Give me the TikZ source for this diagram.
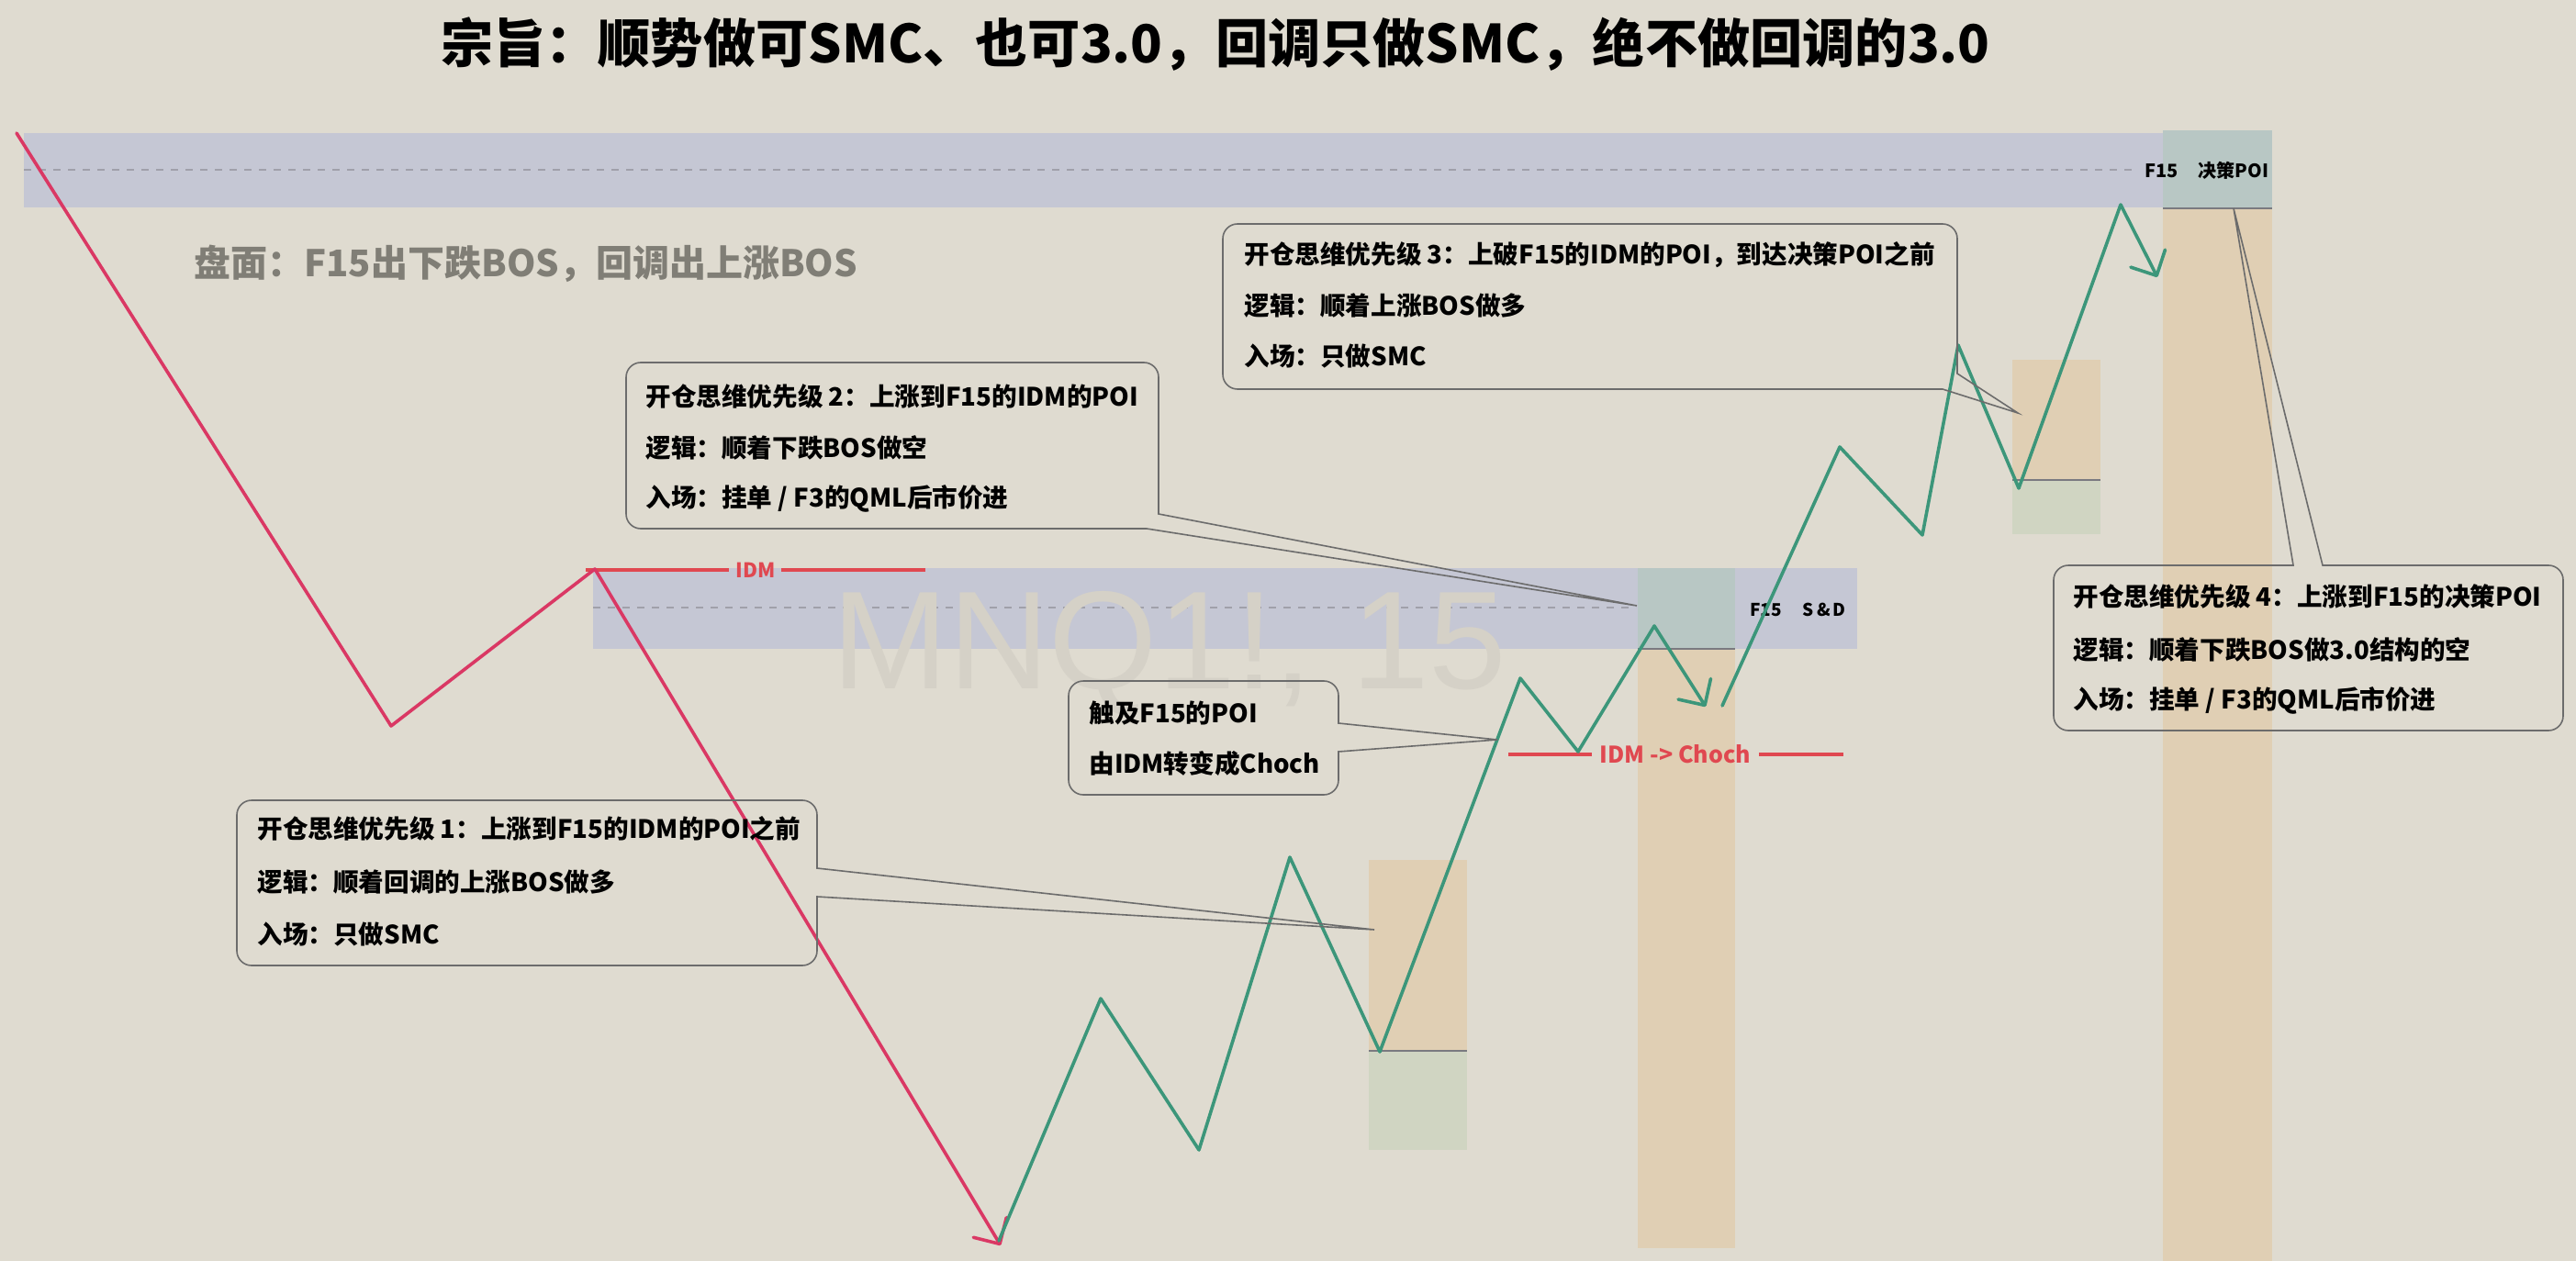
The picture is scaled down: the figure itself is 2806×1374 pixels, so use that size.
\documentclass[tikz,border=0pt]{standalone}
\usepackage{fontspec}
\setmainfont{Noto Sans CJK SC}
\newfontfamily\medfont{Noto Sans CJK SC Medium}
\newfontfamily\wmfont{Liberation Sans}
\usetikzlibrary{arrows.meta}
\definecolor{bg}{RGB}{223,219,208}
\definecolor{bandblue}{RGB}{197,199,212}
\definecolor{poigreen}{RGB}{184,199,196}
\definecolor{zoneorange}{RGB}{224,207,180}
\definecolor{zonegreen}{RGB}{208,213,194}
\definecolor{sepgray}{RGB}{122,122,128}
\definecolor{dashgray}{RGB}{160,160,170}
\definecolor{calloutgray}{RGB}{108,108,108}
\definecolor{downred}{RGB}{218,56,100}
\definecolor{idmred}{RGB}{224,72,80}
\definecolor{upgreen}{RGB}{60,150,122}
\definecolor{wmgray}{RGB}{213,209,199}
\definecolor{pangray}{RGB}{128,126,118}
\tikzset{
  sepline/.style={draw=sepgray,line width=1pt},
  dashline/.style={draw=dashgray,line width=0.8pt,dash pattern=on 4pt off 4pt},
  downline/.style={draw=downred,line width=1.8pt,line cap=round,line join=round},
  upline/.style={draw=upgreen,line width=1.8pt,line cap=round,line join=round},
  barb/.style={-{Straight Barb[length=10.5pt,width=21pt,line cap=round,line join=round]}},
  idmline/.style={draw=idmred,line width=1.7pt},
  callout/.style={draw=calloutgray,line width=0.8pt,line join=miter},
  ctext/.style={anchor=west,inner sep=0pt,font=\bfseries\fontsize{13.8pt}{16pt}\selectfont,text=black},
  smalllabel/.style={anchor=west,inner sep=0pt,font=\bfseries\fontsize{10pt}{12pt}\selectfont,text=black},
  redlabel/.style={inner sep=0pt,font=\bfseries\fontsize{10pt}{12pt}\selectfont,text=idmred},
}
\begin{document}
\begin{tikzpicture}[x=0.5pt,y=0.5pt]
\useasboundingbox (0,0) rectangle (2806,-1374);
\fill[bg] (0,0) rectangle (2806,-1374);

% zones
\fill[bandblue] (26,-145) rectangle (2356,-226);
\fill[poigreen] (2356,-142) rectangle (2475,-227);
\fill[zoneorange] (2356,-227) rectangle (2475,-1374);
\draw[sepline] (2356,-227) -- (2475,-227);

\fill[bandblue] (646,-619) rectangle (2023,-707);
\fill[poigreen] (1784,-619) rectangle (1890,-707);
\fill[zoneorange] (1784,-707) rectangle (1890,-1360);
\draw[sepline] (1784,-707) -- (1890,-707);

\fill[zoneorange] (1491,-937) rectangle (1598,-1145);
\fill[zonegreen] (1491,-1145) rectangle (1598,-1253);
\draw[sepline] (1491,-1145) -- (1598,-1145);

\fill[zoneorange] (2192,-392) rectangle (2288,-523);
\fill[zonegreen] (2192,-523) rectangle (2288,-582);
\draw[sepline] (2192,-523) -- (2288,-523);

\draw[dashline] (26,-185) -- (2325,-185);
\draw[dashline] (646,-662) -- (1782,-662);

% watermark
\node[inner sep=0pt,text=wmgray,font=\wmfont\fontsize{76pt}{80pt}\selectfont] (wm) at (1274,-712) {MNQ1!, 15};

% labels in zones
\node[smalllabel] (poilabel) at (2336,-186) {F15\hspace{1.1em}决策POI};
\node[smalllabel,font=\bfseries\fontsize{9.5pt}{11pt}\selectfont] (sdlabel) at (1906,-664) {F15\hspace{1.2em}S\,\&\,D};

% IDM lines
\node[redlabel,font=\bfseries\fontsize{11pt}{12pt}\selectfont] (idm) at (823,-621) {IDM};
\coordinate (idmA) at (638,-621);
\coordinate (idmB) at (1008,-621);
\draw[idmline] (idmA) -- (idm.west -| 794,0);
\draw[idmline] (idm.east -| 851,0) -- (idmB);

\node[redlabel,font=\bfseries\fontsize{12.5pt}{14pt}\selectfont] (choch) at (1825,-822) {IDM -> Choch};
\coordinate (chA) at (1643,-822);
\coordinate (chB) at (2008,-822);
\draw[idmline] (chA) -- (choch.west -| 1734,0);
\draw[idmline] (choch.east -| 1916,0) -- (chB);

% red downtrend
\coordinate (r0) at (18,-145);
\coordinate (r1) at (426,-791);
\coordinate (r2) at (648,-620);
\coordinate (r3) at (1090,-1357);
\draw[downline,barb] (r0) -- (r1) -- (r2) -- (r3);

% green uptrend
\coordinate (g0) at (1088,-1352);
\coordinate (g1) at (1199,-1088);
\coordinate (g2) at (1306,-1253);
\coordinate (g3) at (1405,-934);
\coordinate (g4) at (1503,-1146);
\coordinate (g5) at (1656,-739);
\coordinate (g6) at (1719,-819);
\coordinate (g7) at (1802,-682);
\coordinate (g8) at (1858,-770);
\draw[upline,barb] (g0) -- (g1) -- (g2) -- (g3) -- (g4) -- (g5) -- (g6) -- (g7) -- (g8);
\coordinate (h0) at (1876,-769);
\coordinate (h1) at (2004,-487);
\coordinate (h2) at (2094,-583);
\coordinate (h3) at (2133,-376);
\coordinate (h4) at (2199,-532);
\coordinate (h5) at (2310,-223);
\coordinate (h6) at (2350,-302);
\draw[upline,barb] (h0) -- (h1) -- (h2) -- (h3) -- (h4) -- (h5) -- (h6);

% callouts
\coordinate (t1) at (1497,-1013);
\coordinate (t2) at (1783,-660);
\coordinate (t3) at (2198,-450);
\coordinate (t4) at (2433,-227);
\coordinate (t5) at (1631,-806);

\draw[callout] (274,-872) -- (874,-872) arc[start angle=90,end angle=0,radius=16] -- (890,-946) -- (t1) -- (890,-977) -- (890,-1036) arc[start angle=0,end angle=-90,radius=16] -- (274,-1052) arc[start angle=270,end angle=180,radius=16] -- (258,-888) arc[start angle=180,end angle=90,radius=16] -- cycle;

\draw[callout] (698,-395) -- (1246,-395) arc[start angle=90,end angle=0,radius=16] -- (1262,-560) -- (t2) -- (1249,-576) -- (698,-576) arc[start angle=270,end angle=180,radius=16] -- (682,-411) arc[start angle=180,end angle=90,radius=16] -- cycle;

\draw[callout] (1348,-244) -- (2116,-244) arc[start angle=90,end angle=0,radius=16] -- (2132,-407) -- (t3) -- (2116,-424) -- (1348,-424) arc[start angle=270,end angle=180,radius=16] -- (1332,-260) arc[start angle=180,end angle=90,radius=16] -- cycle;

\draw[callout] (2253,-616) -- (2498,-616) -- (t4) -- (2530,-616) -- (2776,-616) arc[start angle=90,end angle=0,radius=16] -- (2792,-780) arc[start angle=0,end angle=-90,radius=16] -- (2253,-796) arc[start angle=270,end angle=180,radius=16] -- (2237,-632) arc[start angle=180,end angle=90,radius=16] -- cycle;

\draw[callout] (1180,-742) -- (1442,-742) arc[start angle=90,end angle=0,radius=16] -- (1458,-788) -- (t5) -- (1458,-819) -- (1458,-850) arc[start angle=0,end angle=-90,radius=16] -- (1180,-866) arc[start angle=270,end angle=180,radius=16] -- (1164,-758) arc[start angle=180,end angle=90,radius=16] -- cycle;

% callout texts
\node[ctext] (p1a) at (280,-903) {开仓思维优先级 1：上涨到F15的IDM的POI之前};
\node[ctext] (p1b) at (280,-961) {逻辑：顺着回调的上涨BOS做多};
\node[ctext] (p1c) at (280,-1018) {入场：只做SMC};

\node[ctext] (p2a) at (703,-432) {开仓思维优先级 2：上涨到F15的IDM的POI};
\node[ctext] (p2b) at (703,-488) {逻辑：顺着下跌BOS做空};
\node[ctext] (p2c) at (703,-543) {入场：挂单 / F3的QML后市价进};

\node[ctext] (p3a) at (1355,-278) {开仓思维优先级 3：上破F15的IDM的POI，到达决策POI之前};
\node[ctext] (p3b) at (1355,-333) {逻辑：顺着上涨BOS做多};
\node[ctext] (p3c) at (1355,-388) {入场：只做SMC};

\node[ctext] (p4a) at (2258,-650) {开仓思维优先级 4：上涨到F15的决策POI};
\node[ctext] (p4b) at (2258,-708) {逻辑：顺着下跌BOS做3.0结构的空};
\node[ctext] (p4c) at (2258,-763) {入场：挂单 / F3的QML后市价进};

\node[ctext] (p5a) at (1186,-777) {触及F15的POI};
\node[ctext] (p5b) at (1186,-832) {由IDM转变成Choch};

% headings
\node[inner sep=0pt,font=\bfseries\fontsize{28.6pt}{32pt}\selectfont,text=black] (title) at (1324,-48) {宗旨：顺势做可SMC、也可3.0，回调只做SMC，绝不做回调的3.0};
\node[anchor=west,inner sep=0pt,font=\bfseries\fontsize{20pt}{24pt}\selectfont,text=pangray] (pan) at (211,-287) {盘面：F15出下跌BOS，回调出上涨BOS};
\end{tikzpicture}
\end{document}
